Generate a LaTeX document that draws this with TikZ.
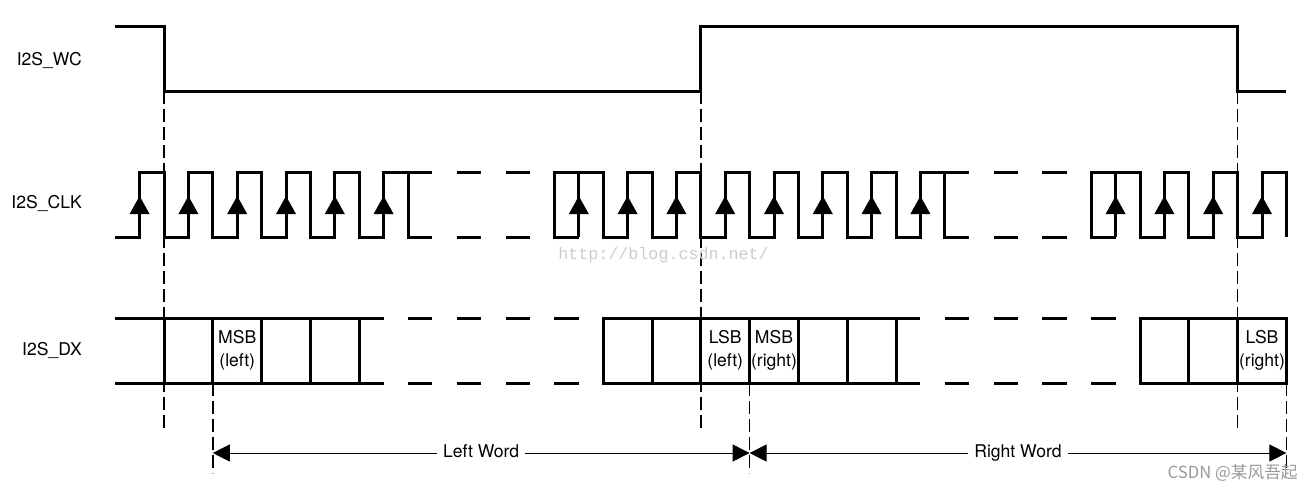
\documentclass[tikz,border=0pt]{standalone}
\usepackage{fontspec}
\setmainfont{TeX Gyre Heros}
\newfontfamily\cjk{Noto Sans CJK SC}
\newfontfamily\wmfont{Liberation Mono}
\usepackage{tikz}
\usetikzlibrary{arrows.meta}
\def\clkarrow(#1){\fill (#1,196) -- (#1+10,214) -- (#1-10,214) -- cycle;}

\begin{document}
\begin{tikzpicture}[x=0.02cm, y=-0.02cm]
		%%%%% START %%%%%
		\useasboundingbox (0, 0) rectangle (1313, 491);
		
		\node[anchor=east] (wc) at (88, 60) {I2S\_WC};
		\node[anchor=east] (clk) at (88, 203) {I2S\_CLK};
		\node[anchor=east] (dx) at (88, 350) {I2S\_DX};
		
		\draw[line width=0.03cm, dash pattern=on 0.26cm off 0.1cm] (164, 91) -- (164, 430);
		\draw[line width=0.03cm, dash pattern=on 0.26cm off 0.1cm] (700.8, 91) -- (700.8, 430);
		\draw[line width=0.03cm, dash pattern=on 0.26cm off 0.1cm] (1237.6, 91) -- (1237.6, 430);
		\draw[line width=0.03cm, dash pattern=on 0.26cm off 0.1cm] (212.8, 383) -- (212.8, 473);
		\draw[line width=0.03cm, dash pattern=on 0.26cm off 0.1cm] (749.6, 383) -- (749.6, 473);
		\draw[line width=0.03cm, dash pattern=on 0.26cm off 0.1cm] (1286.4, 383) -- (1286.4, 473);
		
		\draw[line width=0.06cm] (115.2, 26) -- (164, 26) -- (164, 91) -- (700.8, 91) -- (700.8, 26) -- (1237.6, 26) -- (1237.6, 91) -- (1286.4, 91);
		
		\draw[line width=0.06cm] (115.2, 237) -- (139.6, 237) -- (139.6, 172) -- (164, 172) -- (164, 237) -- (188.4, 237) -- (188.4, 172) -- (212.8, 172) -- (212.8, 237) -- (237.2, 237) -- (237.2, 172) -- (261.6, 172) -- (261.6, 237) -- (286, 237) -- (286, 172) -- (310.4, 172) -- (310.4, 237) -- (334.8, 237) -- (334.8, 172) -- (359.2, 172) -- (359.2, 237) -- (383.6, 237) -- (383.6, 172) -- (432.4, 172);
		\draw[line width=0.06cm] (408, 172) -- (408, 237) -- (432.4, 237);
		\draw[line width=0.06cm, dash pattern=on 0.488cm off 0.488cm] (456.8, 172) -- (530, 172);
		\draw[line width=0.06cm, dash pattern=on 0.488cm off 0.488cm] (456.8, 237) -- (530, 237);
		\draw[line width=0.06cm] (578.8, 237) -- (554.4, 237) -- (554.4, 172) -- (578.8, 172);
		\draw[line width=0.06cm] (578.8, 237) -- (578.8, 172) -- (603.2, 172) -- (603.2, 237) -- (627.6, 237) -- (627.6, 172) -- (652, 172) -- (652, 237) -- (676.4, 237) -- (676.4, 172) -- (700.8, 172) -- (700.8, 237) -- (725.2, 237) -- (725.2, 172) -- (749.6, 172) -- (749.6, 237) -- (774, 237) -- (774, 172) -- (798.4, 172) -- (798.4, 237) -- (822.8, 237) -- (822.8, 172) -- (847.2, 172) -- (847.2, 237) -- (871.6, 237) -- (871.6, 172) -- (896, 172) -- (896, 237) -- (920.4, 237) -- (920.4, 172) -- (969.2, 172);
		\draw[line width=0.06cm] (944.8, 172) -- (944.8, 237) -- (969.2, 237);
		\draw[line width=0.06cm, dash pattern=on 0.488cm off 0.488cm] (993.6, 172) -- (1066.8, 172);
		\draw[line width=0.06cm, dash pattern=on 0.488cm off 0.488cm] (993.6, 237) -- (1066.8, 237);
		\draw[line width=0.06cm] (1115.6, 237) -- (1091.2, 237) -- (1091.2, 172) -- (1115.6, 172);
		\draw[line width=0.06cm] (1115.6, 237) -- (1115.6, 172) -- (1140, 172) -- (1140, 237) -- (1164.4, 237) -- (1164.4, 172) -- (1188.8, 172) -- (1188.8, 237) -- (1213.2, 237) -- (1213.2, 172) -- (1237.6, 172) -- (1237.6, 237) -- (1262, 237) -- (1262, 172) -- (1286.4, 172) -- (1286.4, 237);
		
		\clkarrow(139.6) \clkarrow(188.4) \clkarrow(237.2) \clkarrow(286) \clkarrow(334.8) \clkarrow(383.6)
		\clkarrow(578.8) \clkarrow(627.6) \clkarrow(676.4) \clkarrow(725.2) \clkarrow(774) \clkarrow(822.8) \clkarrow(871.6) \clkarrow(920.4)
		\clkarrow(1115.6) \clkarrow(1164.4) \clkarrow(1213.2) \clkarrow(1262)
		
		\draw[line width=0.06cm] (115.2, 318) -- (383.6, 318) (115.2, 383) -- (383.6, 383);
		\draw[line width=0.06cm] (164, 318) -- (164, 383) (212.8, 318) -- (212.8, 383) (261.6, 318) -- (261.6, 383) (310.4, 318) -- (310.4, 383) (359.2, 318) -- (359.2, 383);
		\draw[line width=0.06cm, dash pattern=on 0.488cm off 0.488cm] (408, 318) -- (578.8, 318) (408, 383) -- (578.8, 383);
		\draw[line width=0.06cm] (920.4, 318) -- (603.2, 318) -- (603.2, 383) -- (920.4, 383);
		\draw[line width=0.06cm] (652, 318) -- (652, 383) (700.8, 318) -- (700.8, 383) (749.6, 318) -- (749.6, 383) (798.4, 318) -- (798.4, 383) (847.2, 318) -- (847.2, 383) (896, 318) -- (896, 383);
		\draw[line width=0.06cm, dash pattern=on 0.488cm off 0.488cm] (944.8, 318) -- (1115.6, 318) (944.8, 383) -- (1115.6, 383);
		\draw[line width=0.06cm] (1140, 318) rectangle (1286.4, 383);
		\draw[line width=0.06cm] (1188.8, 318) -- (1188.8, 383) (1237.6, 318) -- (1237.6, 383);
		
		\node[align=center, inner sep=0, font=\fontsize{10}{13}\selectfont] (msbl) at (237.2, 350.5) {MSB\\(left)};
		\node[align=center, inner sep=0, font=\fontsize{10}{13}\selectfont] (lsbl) at (725.2, 350.5) {LSB\\(left)};
		\node[align=center, inner sep=0, font=\fontsize{10}{13}\selectfont] (msbr) at (774, 350.5) {MSB\\(right)};
		\node[align=center, inner sep=0, font=\fontsize{10}{13}\selectfont] (lsbr) at (1262, 350.5) {LSB\\(right)};
		
		\coordinate (wstart) at (212.8, 453);
		\coordinate (wmid) at (749.6, 453);
		\coordinate (wend) at (1286.4, 453);
		\draw[line width=0.02cm, {Triangle[length=0.34cm, width=0.34cm]}-{Triangle[length=0.34cm, width=0.34cm]}] (wstart) -- node[fill=white, text height=7.2pt, text depth=2.2pt] (lword) {Left Word} (wmid);
		\draw[line width=0.02cm, {Triangle[length=0.34cm, width=0.34cm]}-{Triangle[length=0.34cm, width=0.34cm]}] (wmid) -- node[fill=white, text height=7.2pt, text depth=2.2pt] (rword) {Right Word} (wend);
		
		\node[anchor=west, inner sep=0, color=black!20, font=\wmfont\fontsize{9.5}{11}\selectfont] (url) at (558, 255) {http://blog.csdn.net/};
		\node[anchor=east, inner sep=0, color=black!40, font=\cjk\fontsize{9.5}{11}\selectfont] (csdn) at (1298, 473) {CSDN @某风吾起};
		
		%%%%% END %%%%%
	\end{tikzpicture}
\end{document}
